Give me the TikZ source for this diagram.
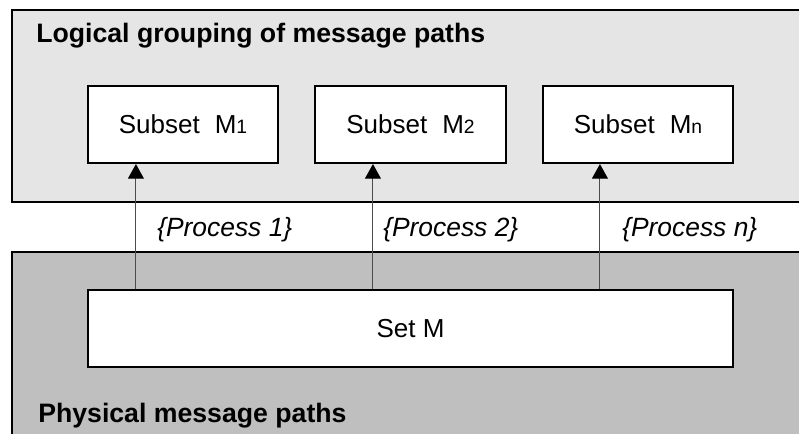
\documentclass[tikz,border=0pt]{standalone}
\usepackage{fontspec}
\setmainfont{Liberation Sans}
\usetikzlibrary{arrows.meta,calc}
\begin{document}
\begin{tikzpicture}[x=0.75pt,y=-0.75pt,
  panel/.style={draw=black,line width=1.8pt},
  setbox/.style={draw=black,line width=1.6pt,fill=white,inner sep=0pt,
    minimum height=57.75pt,font=\fontsize{19.5}{22}\selectfont},
  title/.style={anchor=base west,inner sep=0pt,font=\fontsize{20}{24}\selectfont\bfseries},
  proc/.style={anchor=base west,inner sep=0pt,font=\fontsize{19.8}{22}\selectfont\itshape},
  arr/.style={draw=black!70,line width=0.8pt,
    -{Triangle[length=11pt 0 0,width=12pt 0 0,fill=black,color=black]}}]
  \clip (0,0) rectangle (799,434);
  \fill[white] (0,0) rectangle (799,434);
  % the two layers
  \draw[panel,fill=black!10] (12,10) rectangle (830,202);
  \draw[panel,fill=black!25] (12,252) rectangle (830,460);
  \node[title] (tlog) at (36,43) {Logical grouping of message paths};
  \node[title] (tphy) at (38,422) {Physical message paths};
  % subsets and the whole set
  \newcommand{\sm}[1]{{\fontsize{14.5}{16}\selectfont #1}}
  \node[setbox,minimum width=142.5pt] (m1) at (183,124.5) {Subset\hspace{0.3em} M\sm{1}};
  \node[setbox,minimum width=143.25pt] (m2) at (410.5,124.5) {Subset\hspace{0.3em} M\sm{2}};
  \node[setbox,minimum width=142.5pt] (mn) at (638,124.5) {Subset\hspace{0.3em} M\sm{n}};
  \node[setbox,minimum width=483.75pt] (setm) at (410.5,328.5) {Set M};
  % processes
  \coordinate (p1) at ([xshift=49*0.75pt]m1.south west);
  \coordinate (p2) at ([xshift=59*0.75pt]m2.south west);
  \coordinate (pn) at ([xshift=58*0.75pt]mn.south west);
  \draw[arr] (setm.north -| p1) -- (p1);
  \draw[arr] (setm.north -| p2) -- (p2);
  \draw[arr] (setm.north -| pn) -- (pn);
  \node[proc] (l1) at (157,237) {\{Process 1\}};
  \node[proc] (l2) at (383,237) {\{Process 2\}};
  \node[proc] (ln) at (622,237) {\{Process n\}};
\end{tikzpicture}
\end{document}
